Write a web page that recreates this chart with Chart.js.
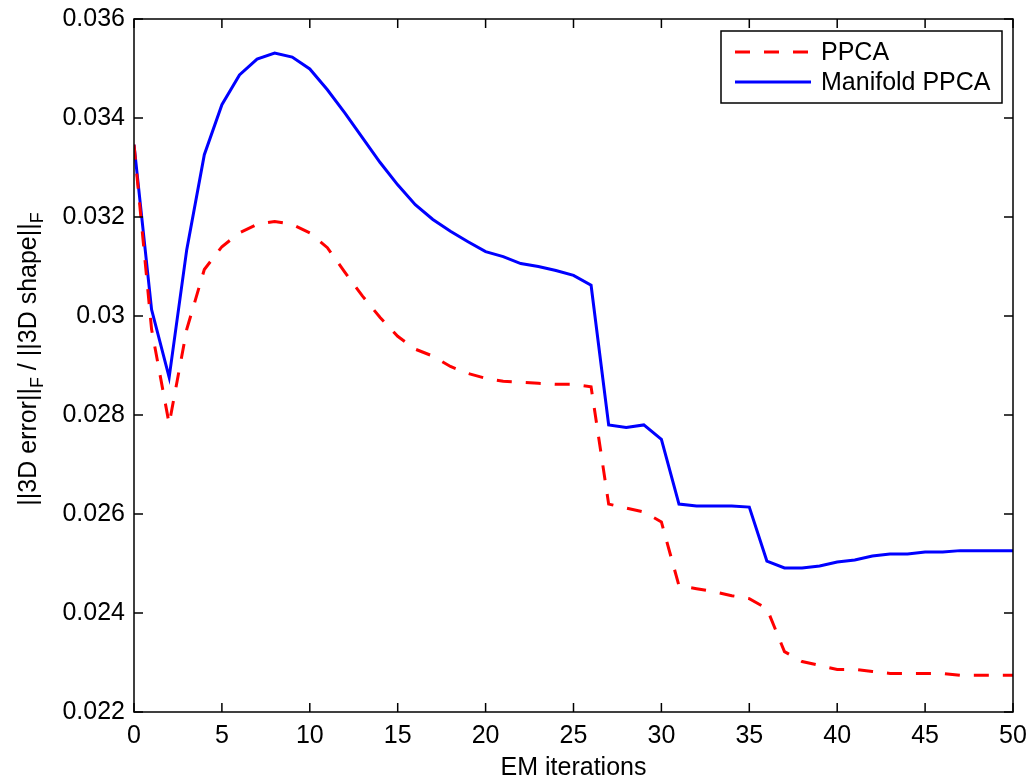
<html>
  <head>
    <script src="https://cdn.jsdelivr.net/npm/chart.js@4.4.0/dist/chart.umd.min.js"></script>
    <style>
      body {
        margin: 0;
        background: #fff;
      }
      #wrap {
        width: 1034px;
        height: 781px;
      }
    </style>
  </head>
  <body>
    <div id="wrap"><canvas id="chart" width="1034" height="781"></canvas></div>
    <script>
      const iterations = [
        0, 1, 2, 3, 4, 5, 6, 7, 8, 9, 10, 11, 12, 13, 14, 15, 16, 17, 18, 19,
        20, 21, 22, 23, 24, 25, 26, 27, 28, 29, 30, 31, 32, 33, 34, 35, 36, 37,
        38, 39, 40, 41, 42, 43, 44, 45, 46, 47, 48, 49, 50,
      ];
      const ppca = [
        0.03346, 0.02973, 0.02782, 0.02973, 0.03094, 0.0314, 0.03168, 0.03185,
        0.03191, 0.03185, 0.03168, 0.03138, 0.03088, 0.0304, 0.02997, 0.02959,
        0.02933, 0.02919, 0.02898, 0.02884, 0.02874, 0.02868, 0.02866, 0.02864,
        0.02862, 0.02862, 0.02857, 0.0262, 0.02612, 0.02604, 0.02584, 0.02455,
        0.02449, 0.02443, 0.02435, 0.02429, 0.02409, 0.02322, 0.02302, 0.02294,
        0.02286, 0.02286, 0.02282, 0.02278, 0.02278, 0.02278, 0.02278, 0.02274,
        0.02274, 0.02274, 0.02274,
      ];
      const manifold = [
        0.03346, 0.03013, 0.02876, 0.03134, 0.03326, 0.03427, 0.03487, 0.03519,
        0.03531, 0.03523, 0.03499, 0.03457, 0.0341, 0.0336, 0.0331, 0.03265,
        0.03225, 0.03195, 0.03171, 0.0315, 0.0313, 0.0312, 0.03106, 0.031,
        0.03092, 0.03082, 0.03062, 0.0278, 0.02775, 0.0278, 0.02751, 0.0262,
        0.02616, 0.02616, 0.02616, 0.02614, 0.02505, 0.02491, 0.02491, 0.02495,
        0.02503, 0.02507, 0.02515, 0.02519, 0.02519, 0.02523, 0.02523, 0.02526,
        0.02526, 0.02526, 0.02526,
      ];
      const x_ticks = [0, 5, 10, 15, 20, 25, 30, 35, 40, 45, 50];
      const y_ticks = [0.022, 0.024, 0.026, 0.028, 0.03, 0.032, 0.034, 0.036];

      const font_family = "'Liberation Sans', Arial, sans-serif";
      const font_size = 25;

      const to_points = (ys) => iterations.map((x, i) => ({ x: x, y: ys[i] }));

      // matlab-style box, inward ticks on all four sides
      const box_plugin = {
        id: "box",
        afterDatasetsDraw: (chart) => {
          const ctx = chart.ctx;
          const a = chart.chartArea;
          const xs = chart.scales.x;
          const ys = chart.scales.y;
          const tl = 9;
          ctx.save();
          ctx.strokeStyle = "#000";
          ctx.lineWidth = 1.5;
          ctx.beginPath();
          for (const t of x_ticks) {
            const px = xs.getPixelForValue(t);
            ctx.moveTo(px, a.bottom);
            ctx.lineTo(px, a.bottom - tl);
            ctx.moveTo(px, a.top);
            ctx.lineTo(px, a.top + tl);
          }
          for (const t of y_ticks) {
            const py = ys.getPixelForValue(t);
            ctx.moveTo(a.left, py);
            ctx.lineTo(a.left + tl, py);
            ctx.moveTo(a.right, py);
            ctx.lineTo(a.right - tl, py);
          }
          ctx.stroke();
          ctx.strokeRect(a.left, a.top, a.right - a.left, a.bottom - a.top);
          ctx.restore();
        },
      };

      const legend_plugin = {
        id: "matlab_legend",
        afterDraw: (chart) => {
          const ctx = chart.ctx;
          const x0 = 721, y0 = 31, w = 281, h = 72;
          ctx.save();
          ctx.fillStyle = "#fff";
          ctx.fillRect(x0, y0, w, h);
          ctx.strokeStyle = "#000";
          ctx.lineWidth = 1.5;
          ctx.strokeRect(x0, y0, w, h);
          ctx.font = `${font_size}px ${font_family}`;
          ctx.textBaseline = "middle";
          ctx.fillStyle = "#000";
          chart.data.datasets.forEach((ds, i) => {
            const y = 52 + i * 30;
            ctx.beginPath();
            ctx.strokeStyle = ds.borderColor;
            ctx.lineWidth = 3;
            ctx.setLineDash(ds.borderDash || []);
            ctx.moveTo(735, y);
            ctx.lineTo(811, y);
            ctx.stroke();
            ctx.setLineDash([]);
            ctx.fillText(ds.label, 821, y + 1);
          });
          ctx.restore();
        },
      };

      // axis titles; the y one needs subscripts
      const titles_plugin = {
        id: "titles",
        afterDraw: (chart) => {
          const ctx = chart.ctx;
          const a = chart.chartArea;
          ctx.save();
          ctx.fillStyle = "#000";
          ctx.font = `${font_size}px ${font_family}`;
          ctx.textAlign = "center";
          ctx.textBaseline = "alphabetic";
          ctx.fillText("EM iterations", (a.left + a.right) / 2, 775);

          const parts = [
            { t: "||3D error||", sub: false },
            { t: "F", sub: true },
            { t: " / ||3D shape||", sub: false },
            { t: "F", sub: true },
          ];
          const main_font = `${font_size}px ${font_family}`;
          const sub_font = `${Math.round(font_size * 0.72)}px ${font_family}`;
          let total = 0;
          for (const p of parts) {
            ctx.font = p.sub ? sub_font : main_font;
            p.w = ctx.measureText(p.t).width;
            total += p.w;
          }
          ctx.translate(36, 359);
          ctx.rotate(-Math.PI / 2);
          ctx.textAlign = "left";
          let x = -total / 2;
          for (const p of parts) {
            ctx.font = p.sub ? sub_font : main_font;
            ctx.fillText(p.t, x, p.sub ? 7 : 0);
            x += p.w;
          }
          ctx.restore();
        },
      };

      const fmt = (v) => String(parseFloat(Number(v).toFixed(3)));

      new Chart(document.getElementById("chart"), {
        type: "line",
        data: {
          datasets: [
            {
              label: "PPCA",
              data: to_points(ppca),
              borderColor: "#ff0000",
              borderWidth: 3,
              borderDash: [15, 14],
              pointRadius: 0,
              tension: 0,
              fill: false,
            },
            {
              label: "Manifold PPCA",
              data: to_points(manifold),
              borderColor: "#0000ff",
              borderWidth: 3,
              pointRadius: 0,
              tension: 0,
              fill: false,
            },
          ],
        },
        options: {
          responsive: false,
          animation: false,
          devicePixelRatio: 1,
          layout: { padding: { top: 19, right: 21, left: 0, bottom: 0 } },
          plugins: {
            legend: { display: false },
            tooltip: { enabled: false },
          },
          scales: {
            x: {
              type: "linear",
              min: 0,
              max: 50,
              afterBuildTicks: (s) => {
                s.ticks = x_ticks.map((v) => ({ value: v }));
              },
              afterFit: (s) => {
                s.height = 69;
                s.paddingLeft = 0;
                s.paddingRight = 0;
              },
              grid: { display: false, drawTicks: false },
              border: { display: false },
              ticks: {
                color: "#000",
                padding: 9,
                maxRotation: 0,
                font: { family: font_family, size: font_size },
                callback: (v) => fmt(v),
              },
            },
            y: {
              min: 0.022,
              max: 0.036,
              afterBuildTicks: (s) => {
                s.ticks = y_ticks.map((v) => ({ value: v }));
              },
              afterFit: (s) => {
                s.width = 134;
                s.paddingTop = 0;
                s.paddingBottom = 0;
              },
              grid: { display: false, drawTicks: false },
              border: { display: false },
              ticks: {
                color: "#000",
                padding: 9,
                font: { family: font_family, size: font_size },
                callback: (v) => fmt(v),
              },
            },
          },
        },
        plugins: [box_plugin, legend_plugin, titles_plugin],
      });
    </script>
  </body>
</html>
